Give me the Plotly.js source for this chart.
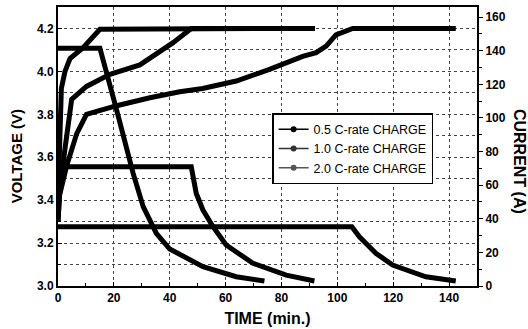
<!DOCTYPE html>
<html><head><meta charset="utf-8">
<script src="https://cdn.plot.ly/plotly-3.0.1.min.js"></script>
<style>body{margin:0;background:#fff}#chart{width:528px;height:329px}</style>
</head><body><div id="chart"></div>
<script>
// Voltage curves (left axis, V)
const v05_t = [0, 0.5, 3.1, 6.7, 10.2, 21, 32.9, 43.6, 51.8, 63.8, 75.7, 87.6, 92.4, 96, 99.5, 105.5, 142.4];
const v05_v = [3.30, 3.42, 3.56, 3.71, 3.80, 3.84, 3.877, 3.905, 3.92, 3.955, 4.009, 4.07, 4.087, 4.118, 4.17, 4.20, 4.20];
const v10_t = [0, 0.7, 2.5, 4.9, 10.2, 18.6, 29.3, 41.2, 47.7, 92];
const v10_v = [3.30, 3.46, 3.64, 3.87, 3.93, 3.986, 4.03, 4.134, 4.20, 4.20];
const v20_t = [0, 0.5, 1.2, 2.5, 4.3, 9, 15, 74];
const v20_v = [3.40, 3.70, 3.92, 4.00, 4.06, 4.11, 4.196, 4.20];
// Current curves (right axis, A)
const i05_t = [0, 105.2, 107.9, 111.4, 113.8, 119.8, 131.7, 142.4];
const i05_a = [35.3, 35.3, 29.3, 23.4, 19.5, 12.5, 5.5, 3];
const i10_t = [0, 47.7, 49.5, 51.9, 55.5, 60.2, 69.8, 81.7, 91.8];
const i10_a = [71, 71, 55, 45.2, 35.3, 24.4, 13.5, 6.5, 3];
const i20_t = [0, 15, 21, 26.9, 30.5, 35.2, 40, 51.9, 63.8, 73.9];
const i20_a = [141.5, 141.5, 104.7, 67, 47.2, 31.3, 22, 11.5, 5.5, 3];
const legendNames = ['0.5 C-rate CHARGE', '1.0 C-rate CHARGE', '2.0 C-rate CHARGE'];

const thick = {color: '#000', width: 5};
function tr(x, y, axis) {
  return {x: x, y: y, yaxis: axis, mode: 'lines', line: thick, showlegend: false, hoverinfo: 'skip'};
}
const legendColors = ['#000', '#333', '#555'];
const data = [
  tr(v05_t, v05_v, 'y'), tr(v10_t, v10_v, 'y'), tr(v20_t, v20_v, 'y'),
  tr(i05_t, i05_a, 'y2'), tr(i10_t, i10_a, 'y2'), tr(i20_t, i20_a, 'y2')
];
legendNames.forEach((n, k) => data.push({
  x: [null], y: [null], name: n, mode: 'lines+markers',
  line: {color: legendColors[k], width: 1.5}, marker: {color: legendColors[k], size: 6, symbol: 'circle'}
}));

const F = 'Liberation Sans, Arial, sans-serif';
const tickFont = {family: F, size: 12, color: '#000', weight: 'bold'};
const layout = {
  width: 528, height: 329,
  margin: {l: 58, r: 51, t: 7, b: 43},
  paper_bgcolor: '#fff', plot_bgcolor: '#fff',
  font: {family: F, color: '#000'},
  showlegend: true,
  legend: {x: 0.511, y: 0.62, xanchor: 'left', yanchor: 'top', bgcolor: '#fff',
    bordercolor: '#000', borderwidth: 1.5, font: {family: F, size: 12.5, color: '#000'},
    tracegroupgap: 0, itemwidth: 30},
  xaxis: {range: [0, 150], dtick: 20, tick0: 0, showline: true, linecolor: '#000', linewidth: 2,
    mirror: true, ticks: 'inside', ticklen: 4, tickcolor: '#000', tickfont: tickFont,
    showgrid: true, gridcolor: '#444', griddash: 'dot', gridwidth: 1, zeroline: false,
    minor: {dtick: 10, ticks: 'inside', ticklen: 3, tickcolor: '#000', showgrid: false},
    title: {text: 'TIME (min.)', font: {family: F, size: 16, weight: 'bold', color: '#000'}, standoff: 8}},
  yaxis: {range: [3.0, 4.3], dtick: 0.2, tick0: 3.0, tickformat: '.1f', showline: true, linecolor: '#000', linewidth: 2,
    ticks: 'inside', ticklen: 4, tickcolor: '#000', tickfont: tickFont,
    showgrid: true, gridcolor: '#444', griddash: 'dot', gridwidth: 1, zeroline: false,
    minor: {dtick: 0.1, ticks: 'inside', ticklen: 3, tickcolor: '#000', showgrid: true, gridcolor: '#444', griddash: 'dot', gridwidth: 1}},
  yaxis2: {range: [0, 166], dtick: 20, tick0: 0, overlaying: 'y', side: 'right', showline: true,
    linecolor: '#000', linewidth: 2, ticks: 'outside', ticklen: 4, tickcolor: '#000', tickfont: tickFont,
    showgrid: false, zeroline: false,
    minor: {dtick: 10, ticks: 'outside', ticklen: 3, tickcolor: '#000'}},
  annotations: [
    {text: 'VOLTAGE (V)', xref: 'paper', yref: 'paper', x: -0.1, y: 0.465, textangle: -90,
      showarrow: false, xanchor: 'center', yanchor: 'middle',
      font: {family: F, size: 15, weight: 'bold', color: '#000'}},
    {text: 'CURRENT (A)', xref: 'paper', yref: 'paper', x: 1.1, y: 0.445, textangle: 90,
      showarrow: false, xanchor: 'center', yanchor: 'middle',
      font: {family: F, size: 16, weight: 'bold', color: '#000'}}]
};
Plotly.newPlot('chart', data, layout, {staticPlot: true, displayModeBar: false});
</script></body></html>
